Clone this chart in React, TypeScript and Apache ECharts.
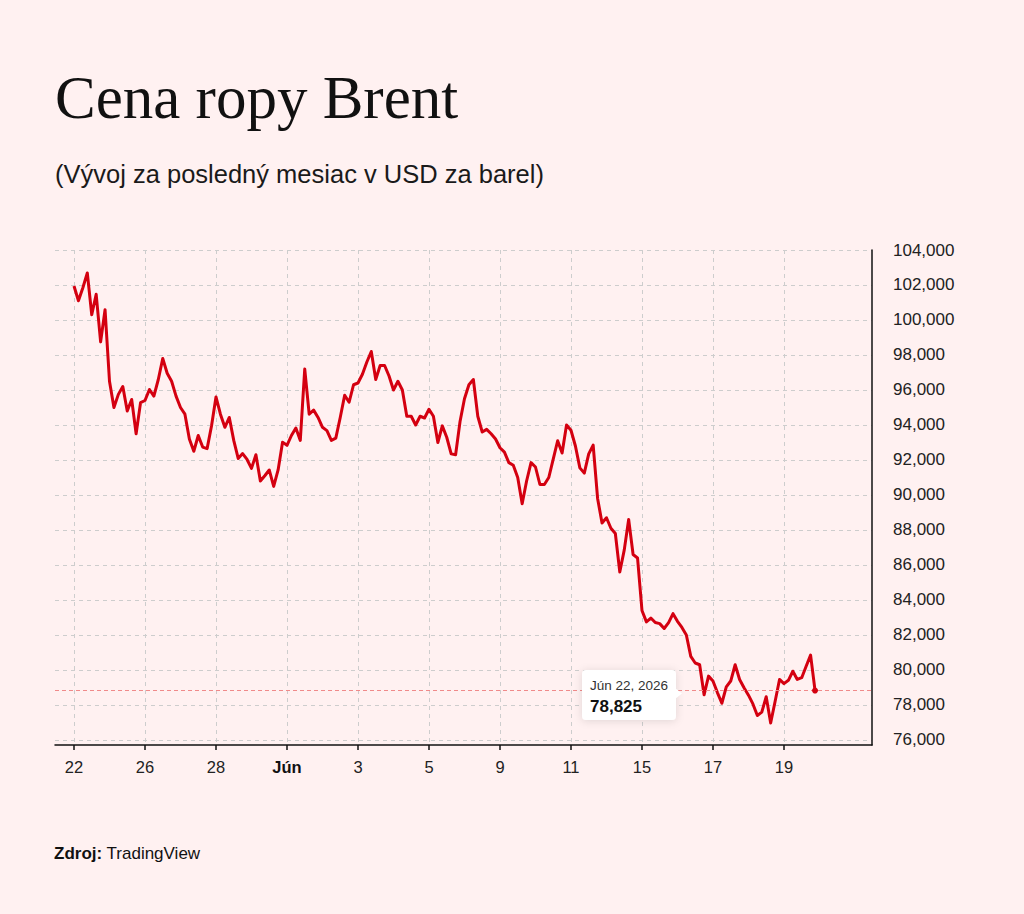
import React, { useEffect, useRef } from "react";
import * as echarts from "echarts";

const SANS = "'Liberation Sans', Arial, Helvetica, sans-serif";
const SERIF = "'Liberation Serif', 'Times New Roman', serif";
const RED = "#d40010";

const titleText = "Cena ropy Brent";
const subtitleText = "(Vývoj za posledný mesiac v USD za barel)";
const sourceLabel = "Zdroj:";
const sourceName = "TradingView";
const lastDate = "Jún 22, 2026";

// x axis counts trading days from May 22, sampled 8 times per day
const samplesPerDay = 8;
const tickDays = [0, 2, 4, 6, 8, 10, 12, 14, 16, 18, 20];
const tickLabels = ["22", "26", "28", "Jún", "3", "5", "9", "11", "15", "17", "19"];
const priceTicks = [76, 78, 80, 82, 84, 86, 88, 90, 92, 94, 96, 98, 100, 102, 104];

const prices = [
  101.94, 101.1, 101.84, 102.69, 100.3, 101.47, 98.75, 100.59, 96.5, 95.0,
  95.75, 96.2, 94.8, 95.46, 93.5, 95.28, 95.4, 96.03, 95.65, 96.6,
  97.8, 96.96, 96.5, 95.65, 95.0, 94.62, 93.2, 92.5, 93.4, 92.74,
  92.65, 93.96, 95.6, 94.62, 93.87, 94.43, 93.12, 92.09, 92.37, 92.03,
  91.52, 92.3, 90.8, 91.1, 91.43, 90.49, 91.43, 93.02, 92.84, 93.4,
  93.83, 93.12, 97.2, 94.62, 94.85, 94.43, 93.87, 93.68, 93.12, 93.25,
  94.43, 95.7, 95.3, 96.3, 96.4, 96.9, 97.6, 98.2, 96.6, 97.4,
  97.4, 96.8, 96.0, 96.5, 96.0, 94.5, 94.5, 94.0, 94.5, 94.4,
  94.9, 94.5, 93.0, 93.95, 93.3, 92.35, 92.3, 94.2, 95.5, 96.3,
  96.6, 94.5, 93.6, 93.75, 93.5, 93.2, 92.7, 92.45, 91.85, 91.7,
  91.0, 89.5, 90.8, 91.85, 91.6, 90.6, 90.6, 91.0, 92.05, 93.1,
  92.4, 94.0, 93.7, 92.8, 91.55, 91.25, 92.35, 92.85, 89.8, 88.4,
  88.7, 88.1, 87.8, 85.6, 86.85, 88.6, 86.6, 86.4, 83.4, 82.75,
  82.97, 82.71, 82.65, 82.37, 82.71, 83.22, 82.78, 82.43, 82.0, 80.78,
  80.4, 80.3, 78.58, 79.65, 79.37, 78.71, 78.1, 79.03, 79.37, 80.3,
  79.46, 78.99, 78.56, 78.06, 77.4, 77.59, 78.47, 76.97, 78.2, 79.46,
  79.22, 79.41, 79.93, 79.46, 79.56, 80.21, 80.85, 78.825,
];

const fmt = (v: number) => v.toFixed(3).replace(".", ",");

const App = () => {
  const chartRef = useRef<HTMLDivElement>(null);

  useEffect(() => {
    document.body.style.margin = "0";
    const dom = chartRef.current;
    if (!dom) return;
    const chart = echarts.init(dom, null, { renderer: "svg" });

    const points = prices.map((p, i) => [i / samplesPerDay, p]);
    const last = points[points.length - 1];

    const gridLine = { color: "#cdcdcd", type: [4, 4], width: 1 };

    const option = {
      animation: false,
      backgroundColor: "#fff1f1",
      textStyle: { fontFamily: SANS },
      grid: { left: 55, right: 152, top: 250, bottom: 169 },
      xAxis: {
        type: "value",
        min: -0.535,
        max: 22.48,
        axisLine: { onZero: false, lineStyle: { color: "#111", width: 1.5 } },
        axisTick: { show: true, customValues: tickDays, length: 5, lineStyle: { color: "#111", width: 1.5 } },
        axisLabel: {
          customValues: tickDays,
          margin: 13,
          fontSize: 16.5,
          color: "#222",
          fontFamily: SANS,
          formatter: (v: number) => {
            const k = tickDays.indexOf(Math.round(v));
            const t = k >= 0 ? tickLabels[k] : "";
            return t === "Jún" ? "{b|" + t + "}" : t;
          },
          rich: { b: { fontWeight: "bold", fontSize: 16.5, color: "#111", fontFamily: SANS } },
        },
        splitLine: { show: true, lineStyle: gridLine },
      },
      yAxis: {
        type: "value",
        position: "right",
        min: 75.714,
        max: 104,
        axisLine: { show: true, onZero: false, lineStyle: { color: "#111", width: 1.5 } },
        axisTick: { show: false, customValues: priceTicks },
        axisLabel: {
          customValues: priceTicks,
          margin: 21,
          fontSize: 17,
          color: "#222",
          fontFamily: SANS,
          formatter: (v: number) => fmt(v),
        },
        splitLine: { show: true, lineStyle: gridLine },
      },
      series: [
        {
          type: "line",
          data: points,
          showSymbol: false,
          lineStyle: { color: RED, width: 3, join: "round" },
          itemStyle: { color: RED },
          markLine: {
            silent: true,
            symbol: "none",
            label: { show: false },
            lineStyle: { color: "#f08a8a", type: [4, 3], width: 1 },
            data: [{ yAxis: last[1] }],
          },
          markPoint: {
            symbol: "circle",
            symbolSize: 6,
            itemStyle: { color: RED },
            label: { show: false },
            data: [{ coord: last }],
          },
        },
      ],
      graphic: [
        {
          type: "text",
          x: 55,
          y: 97,
          style: { text: titleText, fontSize: 61, fontFamily: SERIF, fill: "#111", verticalAlign: "middle" },
        },
        {
          type: "text",
          x: 55,
          y: 174,
          style: { text: subtitleText, fontSize: 25.5, fontFamily: SANS, fill: "#1a1a1a", verticalAlign: "middle" },
        },
        {
          type: "text",
          x: 54,
          y: 853,
          style: {
            text: "{b|" + sourceLabel + "} " + sourceName,
            fontSize: 17,
            fontFamily: SANS,
            fill: "#111",
            verticalAlign: "middle",
            rich: { b: { fontWeight: "bold", fontSize: 17, fontFamily: SANS, fill: "#111" } },
          },
        },
        {
          type: "group",
          z: 100,
          children: [
            {
              type: "rect",
              z: 100,
              shape: { x: 582, y: 670, width: 94, height: 50, r: 4 },
              style: { fill: "#fff", shadowBlur: 8, shadowColor: "rgba(0,0,0,0.12)", shadowOffsetY: 1 },
            },
            {
              type: "polygon",
              z: 100,
              shape: { points: [[675, 688], [682, 693.5], [675, 699]] },
              style: { fill: "#fff" },
            },
            {
              type: "text",
              z: 101,
              x: 590,
              y: 685,
              style: { text: lastDate, fontSize: 13.5, fontFamily: SANS, fill: "#333", verticalAlign: "middle" },
            },
            {
              type: "text",
              z: 101,
              x: 590,
              y: 706,
              style: { text: fmt(last[1]), fontSize: 17, fontWeight: "bold", fontFamily: SANS, fill: "#111", verticalAlign: "middle" },
            },
          ],
        },
      ],
    };

    chart.setOption(option);

    const onResize = () => chart.resize();
    window.addEventListener("resize", onResize);
    return () => {
      window.removeEventListener("resize", onResize);
      chart.dispose();
    };
  }, []);

  return <div ref={chartRef} style={{ width: 1024, height: 914 }} />;
};

export default App;
